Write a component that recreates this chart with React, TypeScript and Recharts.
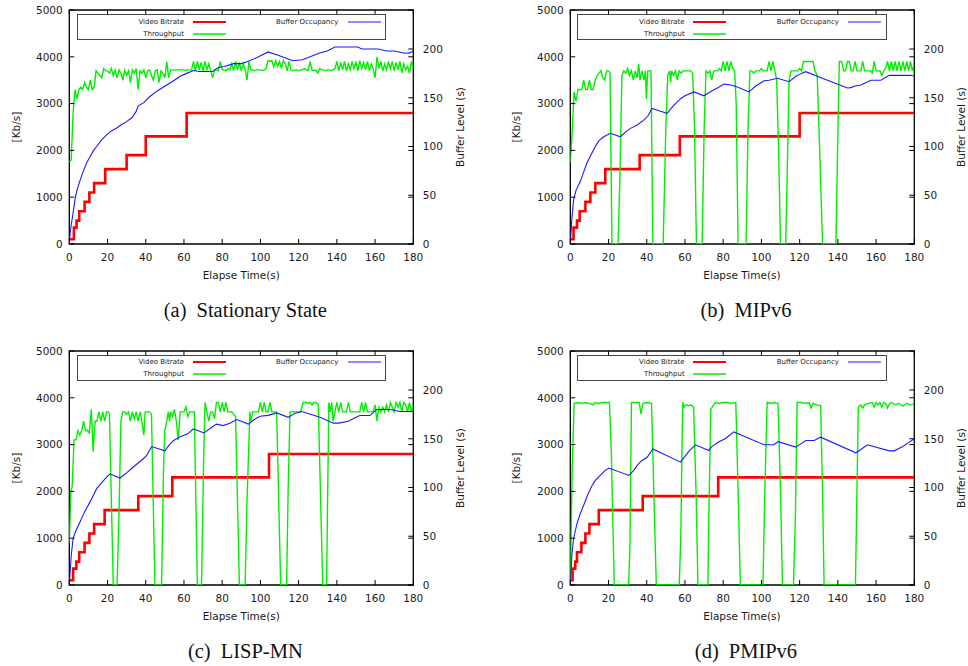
import React from 'react';
import { ComposedChart, Line, XAxis, YAxis, ReferenceArea, Legend } from 'recharts';

type Pt = [number, number];

const timeTicks = [0, 20, 40, 60, 80, 100, 120, 140, 160, 180];
const rateTicks = [0, 1000, 2000, 3000, 4000, 5000];
const bufferTicks = [0, 50, 100, 150, 200];
const seriesNames = ['Video Bitrate', 'Throughput', 'Buffer Occupancy'];
const seriesColors = ['#ff0000', '#00ee00', '#1a1aff'];
const panelTags = ['(a)', '(b)', '(c)', '(d)'];
const panelTitles = ['Stationary State', 'MIPv6', 'LISP-MN', 'PMIPv6'];

// (a) Stationary State
const bitrateA: Pt[] = [[0, 100], [2.4, 350], [3.8, 500], [5.2, 700], [8, 900], [10.5, 1100], [13, 1300], [18.8, 1600], [30, 1900], [40, 2300], [61.4, 2800], [180, 2800]];
const throughputA: Pt[] = [
  [0, 1750], [1, 1800], [2, 2800], [3, 3300], [4, 3100], [5, 3300], [6, 3350], [7, 3300], [8, 3450], [9, 3350],
  [10, 3300], [11, 3500], [12, 3300], [13, 3350], [14, 3700], [15, 3650], [16, 3600], [17, 3550], [18, 3750], [19, 3700],
  [20, 3700], [21, 3650], [22, 3750], [23, 3600], [24, 3720], [25, 3550], [26, 3720], [27, 3650], [28, 3500], [29, 3720],
  [30, 3600], [31, 3700], [32, 3450], [33, 3720], [34, 3650], [35, 3750], [36, 3300], [37, 3700], [38, 3650], [39, 3720],
  [40, 3550], [41, 3700], [42, 3720], [43, 3600], [44, 3500], [45, 3700], [46, 3720], [47, 3450], [48, 3700], [49, 3650],
  [50, 3550], [51, 3900], [52, 3550], [53, 3720], [54, 3720], [55, 3710], [56, 3720], [57, 3720], [58, 3720], [59, 3720],
  [60, 3720], [61, 3710], [62, 3720], [63, 3720], [64, 3720], [65, 3900], [66, 3700], [67, 3900], [68, 3720], [69, 3880],
  [70, 3700], [71, 3900], [72, 3720], [73, 3850], [74, 3700], [75, 3550], [76, 3720], [77, 3720], [78, 3700], [79, 3900],
  [80, 3720], [81, 3720], [82, 3700], [83, 3750], [84, 3720], [85, 3850], [86, 3700], [87, 3900], [88, 3720], [89, 3880],
  [90, 3700], [91, 3850], [92, 3720], [93, 3500], [94, 3900], [95, 3720], [96, 3720], [97, 3700], [98, 3720], [99, 3720],
  [100, 3720], [101, 3700], [102, 3720], [103, 3750], [104, 3920], [105, 3900], [106, 3920], [107, 3780], [108, 3920], [109, 3800],
  [110, 3900], [111, 3750], [112, 3920], [113, 3850], [114, 3700], [115, 3900], [116, 3720], [117, 3700], [118, 3720], [119, 3720],
  [120, 3700], [121, 3720], [122, 3720], [123, 3750], [124, 3720], [125, 3700], [126, 3900], [127, 3720], [128, 3700], [129, 3720],
  [130, 3650], [131, 3750], [132, 3720], [133, 3720], [134, 3700], [135, 3720], [136, 3720], [137, 3700], [138, 3720], [139, 3750],
  [140, 3900], [141, 3700], [142, 3880], [143, 3720], [144, 3900], [145, 3700], [146, 3850], [147, 3720], [148, 3900], [149, 3750],
  [150, 3880], [151, 3700], [152, 3920], [153, 3750], [154, 3880], [155, 3720], [156, 3900], [157, 3700], [158, 3850], [159, 3750],
  [160, 3550], [161, 4000], [162, 3750], [163, 3900], [164, 3700], [165, 3850], [166, 3720], [167, 3900], [168, 3750], [169, 3900],
  [170, 3700], [171, 3880], [172, 3720], [173, 3900], [174, 3650], [175, 3850], [176, 3720], [177, 3800], [178, 3650], [179, 3900],
  [180, 3750],
];
const bufferA: Pt[] = [
  [0, 0], [0.5, 12], [1.2, 22], [2, 32], [3, 46], [4, 55], [5.6, 65], [7, 73], [9, 83], [11, 90], [12.7, 96], [14.3, 100],
  [17, 107], [19.5, 112], [22, 116], [24.8, 119], [27, 122], [30, 125.5], [33, 130], [35, 136], [36, 141.5], [39, 145],
  [42, 151], [46, 157], [51, 163], [55, 168], [58, 172], [61.4, 175], [65, 178], [68, 177], [75, 177], [78, 181], [81, 182],
  [86, 185], [90, 185], [93, 187], [98, 191], [104, 197], [110, 193], [117, 188], [122, 189], [126, 192], [131, 196],
  [135, 198], [139, 202], [151, 202], [153, 200], [161.7, 200], [166, 198], [170, 198], [175.6, 195.6], [178, 196], [180, 198],
];

// (b) MIPv6
const bitrateB: Pt[] = [[0, 100], [1.7, 350], [3.5, 500], [4.9, 700], [7.9, 900], [10.5, 1100], [13.1, 1300], [18.3, 1600], [36.3, 1900], [57.3, 2300], [120, 2800], [180, 2800]];
const throughputB: Pt[] = [
  [0, 1750], [1, 2400], [2, 3250], [3, 3050], [4, 3300], [5, 3300], [6, 3300], [7, 3500], [8, 3300], [9, 3300],
  [10, 3500], [11, 3300], [12, 3300], [13, 3500], [14, 3600], [15, 3650], [16, 3700], [17, 3550], [18, 3500], [19, 3700],
  [20, 3700], [20.8, 3650], [21.8, 0], [25, 0], [26, 1500], [27, 3600], [28, 3700], [29, 3650], [30, 3750], [31, 3600],
  [32, 3700], [33, 3500], [34, 3700], [35, 3550], [35.8, 3850], [36.5, 3500], [37.5, 3700], [38.5, 3500], [39.3, 3700],
  [39.8, 3100], [40.5, 3700], [41.5, 3700], [42.2, 3700], [43.2, 0], [48.6, 0], [50, 2500], [51, 3600], [52, 3700],
  [52.5, 3450], [53, 3700], [54, 3600], [55, 3700], [56, 3500], [57, 3700], [58, 3650], [59, 3700], [60, 3700], [61, 3700],
  [62, 3700], [63, 3700], [64, 3650], [65, 2500], [66, 0], [69, 0], [70, 2400], [71, 3700], [72, 3650], [73, 3700],
  [74, 3500], [75, 3700], [76, 3700], [77, 3700], [78, 3750], [79, 3700], [80, 3900], [81, 3700], [82, 3900], [83, 3700],
  [84, 3900], [85, 3750], [86, 3700], [86.8, 3000], [87.8, 0], [92, 0], [93, 2500], [94, 3700], [95, 3700], [96, 3650],
  [97, 3700], [98, 3700], [99, 3700], [100, 3750], [101, 3700], [102, 3700], [103, 3700], [104, 3900], [105, 3700],
  [106, 3900], [107, 3700], [108, 3500], [109, 2000], [110, 0], [112.7, 0], [113.5, 1500], [114.5, 3500], [115.5, 3700],
  [117, 3700], [119, 3700], [120, 3750], [121, 3700], [122, 3900], [123, 3900], [125, 3900], [127, 3900], [128, 3700],
  [129.2, 3600], [130.5, 2000], [132, 0], [139, 0], [140.3, 3000], [140.8, 3900], [142, 3900], [143, 3700], [144, 3700],
  [145, 3900], [146, 3900], [147, 3700], [148, 3700], [149, 3900], [150, 3700], [151, 3700], [152, 3700], [153, 3900],
  [154, 3700], [155, 3700], [156, 3700], [157, 3700], [158, 3650], [159, 3900], [160, 3700], [161, 3700], [162, 3700],
  [163, 3600], [164, 3700], [165, 3750], [166, 3900], [167, 3700], [168, 3900], [169, 3700], [170, 3900], [171, 3700],
  [172, 3900], [173, 3700], [174, 3900], [175, 3700], [176, 3900], [177, 3700], [178, 3900], [179, 3700], [180, 3850],
];
const bufferB: Pt[] = [
  [0, 0], [0.8, 25], [1.7, 45], [3, 55], [5.2, 64], [7, 74], [8.7, 83], [11, 92], [13.1, 100], [15, 106], [17.5, 110],
  [21, 113.5], [26.2, 110], [29, 115], [31.5, 118.6], [35, 122], [38.4, 127], [40.5, 131], [42.8, 139], [46, 137],
  [50.7, 134], [54, 142], [57.7, 149], [60, 152], [64.7, 156], [69.9, 152], [74, 157], [77, 160], [80.4, 164], [84, 163],
  [87.4, 161], [93.5, 156], [97, 162], [101.4, 167.5], [104, 168], [108.4, 170], [114.5, 166.5], [118, 172], [121, 175],
  [123.2, 176.8], [134.6, 168], [145, 160], [146.8, 160.4], [149, 162], [152, 163], [157.3, 168], [162.5, 168],
  [166.9, 173], [178.3, 173], [180, 172],
];

// (c) LISP-MN
const bitrateC: Pt[] = [[0, 100], [2, 350], [3.7, 500], [5.2, 700], [8, 900], [10.5, 1100], [13, 1300], [18.5, 1600], [36.1, 1900], [53.9, 2300], [104.5, 2800], [180, 2800]];
const throughputC: Pt[] = [
  [0, 900], [0.8, 2000], [1.5, 2100], [2.5, 3100], [3.5, 3100], [4.5, 3300], [5.5, 3200], [6.5, 3300], [7.5, 3500],
  [8.5, 3300], [9.5, 3300], [10.5, 3250], [11.5, 3750], [12.5, 2850], [13.5, 3500], [14.5, 3500], [15.5, 3700],
  [16.5, 3500], [17.5, 3700], [18.5, 3500], [19.5, 3700], [20.5, 3700], [21, 3650], [23, 0], [25, 0], [26, 1500],
  [27, 3500], [28, 3700], [29, 3700], [30, 3650], [31, 3700], [32, 3500], [33, 3700], [34, 3550], [35, 3700], [36, 3500],
  [37, 3700], [38, 3500], [39, 3200], [39.7, 3700], [41, 3700], [42, 3700], [43, 3650], [44.8, 0], [48.3, 0], [49.3, 2500],
  [50, 3300], [51, 3500], [51.8, 3700], [52.5, 3500], [53, 3700], [54, 3600], [55, 3750], [56, 3500], [57, 3100],
  [58, 3700], [59, 3700], [60, 3700], [61, 3800], [62, 3600], [63, 3700], [64, 3700], [65.4, 3700], [67, 0], [69.2, 0],
  [70.2, 2500], [71, 3900], [72, 3700], [73, 3500], [74, 3700], [75, 3700], [76, 3550], [77, 3900], [78, 3900], [79, 3700],
  [80, 3900], [81, 3700], [82, 3900], [83, 3700], [84, 3700], [85, 3700], [86, 3650], [87, 3600], [89, 0], [92, 0],
  [93, 1800], [94.5, 3700], [95, 3500], [96, 3700], [97, 3700], [98, 3700], [99, 3700], [100, 3900], [101, 3700],
  [102, 3900], [103, 3700], [104, 3700], [105, 3900], [106, 3700], [107, 3700], [108.5, 3700], [110.6, 0], [113.7, 0],
  [114.5, 2000], [115.5, 3700], [117, 3700], [119, 3700], [121, 3700], [122.4, 3900], [124, 3900], [125, 3880],
  [126, 3900], [127, 3850], [128, 3900], [129, 3900], [130.3, 3850], [132.6, 0], [134.6, 0], [135.8, 3900], [136.5, 3700],
  [137.3, 3900], [138, 3500], [139, 3700], [140, 3900], [141, 3700], [142, 3900], [143, 3700], [144, 3700], [145, 3700],
  [146, 3900], [147, 3700], [148, 3700], [149, 3700], [150, 3700], [151, 3700], [152, 3700], [153, 3900], [154, 3700],
  [155, 3900], [156, 3700], [157, 3700], [158, 3700], [159, 3700], [160, 3850], [161, 3500], [162, 3800], [163, 3700],
  [164, 3800], [165, 3700], [166, 3850], [167, 3700], [168, 3900], [169, 3800], [170, 3700], [171, 3900], [172, 3800],
  [173, 3900], [174, 3700], [175, 3900], [176, 3850], [177, 3700], [178, 3900], [179, 3700], [180, 3850],
];
const bufferC: Pt[] = [
  [0, 0], [1, 30], [2, 47.7], [3.5, 56], [5.6, 64.7], [8, 75], [10.8, 85], [14.3, 98.8], [17, 105], [19.5, 110.7],
  [21.3, 114], [26.5, 109.7], [30, 115], [33.5, 121], [38.7, 129.5], [40.5, 133], [43.1, 142], [50, 137.6], [52, 143],
  [54.4, 148], [58, 152], [62, 155], [64.9, 160], [70.5, 156], [74, 161], [77, 165], [80.6, 163.5], [84, 166],
  [87.6, 169.7], [93.7, 165], [97, 170], [99.8, 173], [104, 174], [108.5, 176.5], [114.6, 172], [118, 176], [121.6, 177.9],
  [131.2, 172], [138.2, 166], [141, 166], [146, 168], [149, 171], [152, 173.8], [157.3, 173.8], [160.8, 180],
  [167.8, 180], [173, 177.9], [180, 177.9],
];

// (d) PMIPv6
const bitrateD: Pt[] = [[0, 100], [1.2, 350], [2.6, 500], [3.5, 700], [5.8, 900], [7.9, 1100], [10, 1300], [14.9, 1600], [37.9, 1900], [77.4, 2300], [180, 2300]];
const throughputD: Pt[] = [
  [0, 0], [1, 2500], [2, 3880], [4, 3900], [6, 3880], [8, 3900], [10, 3880], [12, 3850], [13, 3900], [15, 3880],
  [17, 3900], [19, 3900], [20.5, 3900], [21.5, 2800], [23, 0], [30.5, 0], [31.2, 800], [32, 3900], [34, 3900], [36, 3900],
  [37, 3650], [38, 3880], [40, 3900], [42.5, 3880], [43.7, 2000], [45, 0], [57, 0], [57.8, 1000], [58.8, 3900],
  [59.5, 3800], [60.5, 3850], [62, 3830], [63, 3850], [64.5, 3800], [65.8, 2000], [66.8, 0], [72, 0], [72.5, 1500],
  [73.5, 3750], [75, 3850], [76, 3900], [78, 3880], [80, 3900], [82, 3900], [84, 3880], [86.6, 3900], [87.8, 2000],
  [89, 0], [100.8, 0], [101.8, 2000], [103, 3900], [105, 3880], [107, 3900], [108.7, 3880], [110, 2000], [111, 0],
  [116.8, 0], [117.8, 1500], [118.7, 3900], [121, 3900], [123, 3880], [125, 3900], [126, 3780], [127, 3880], [129, 3850],
  [131, 3830], [132, 2000], [132.8, 0], [149.2, 0], [149.8, 1500], [150.7, 3800], [152, 3850], [153, 3780], [154, 3850],
  [156, 3880], [158, 3900], [159, 3800], [160, 3900], [161, 3850], [162, 3900], [163, 3800], [164, 3900], [165, 3880],
  [166, 3780], [167, 3880], [168, 3900], [170, 3850], [172, 3880], [174, 3820], [176, 3880], [178, 3850], [180, 3870],
];
const bufferD: Pt[] = [
  [0, 0], [0.8, 30], [1.7, 47.7], [3.5, 63], [5, 72], [7, 81.8], [9, 92], [11.4, 102], [13, 107], [15.7, 112.4], [18, 117],
  [20.1, 120], [30.6, 112.4], [33, 117], [35, 122.6], [37, 127], [40.2, 131], [43.2, 139.6], [57.7, 126], [60, 132],
  [62, 137], [65.5, 143.8], [72.5, 138], [74, 142], [77.8, 147], [81, 150], [85.6, 157], [101.4, 143.8], [106.6, 143.8],
  [108.7, 147], [118, 141.4], [120, 144], [123.2, 148.2], [127.6, 148.2], [131, 151.6], [149.4, 135.6], [152, 139],
  [155.5, 143.8], [166.9, 137.6], [169.5, 137.6], [174, 142], [177, 146], [180, 150],
];

const panelData = [
  { bitrate: bitrateA, throughput: throughputA, buffer: bufferA },
  { bitrate: bitrateB, throughput: throughputB, buffer: bufferB },
  { bitrate: bitrateC, throughput: throughputC, buffer: bufferC },
  { bitrate: bitrateD, throughput: throughputD, buffer: bufferD },
];

const PLOT_W = 344;
const PLOT_H = 234;
const LEFT_W = 69.3;
const RIGHT_W = 61;
const TOP = 10;
const CHART_W = LEFT_W + PLOT_W + RIGHT_W + 6;
const CHART_H = TOP + PLOT_H + 46;
const FONT = '"DejaVu Sans", sans-serif';
const TEXT = '#1a1a1a';
const panelPos = [
  { left: 0, top: 0 },
  { left: 500.7, top: 0 },
  { left: 0, top: 340.7 },
  { left: 500.7, top: 340.7 },
];

const toRows = (pts: Pt[]) => pts.map(([t, v]) => ({ t, v }));

// gnuplot-style inward ticks, with mirrored ticks on the top edge
const TimeTick = (p: any) => {
  const { x, y, payload } = p;
  return (
    <g>
      <line x1={x} x2={x} y1={y} y2={y - 5} stroke="#000" />
      <line x1={x} x2={x} y1={y - PLOT_H} y2={y - PLOT_H + 5} stroke="#000" />
      <text x={x} y={y + 17} textAnchor="middle" fontSize={10.5} fontFamily={FONT} fill={TEXT}>
        {payload.value}
      </text>
    </g>
  );
};

const RateTick = (p: any) => {
  const { x, y, payload } = p;
  return (
    <g>
      <line x1={x} x2={x + 5} y1={y} y2={y} stroke="#000" />
      <line x1={x + PLOT_W} x2={x + PLOT_W - 5} y1={y} y2={y} stroke="#000" />
      <text x={x - 6.6} y={y} dy="0.36em" textAnchor="end" fontSize={10.5} fontFamily={FONT} fill={TEXT}>
        {payload.value}
      </text>
    </g>
  );
};

const BufferTick = (p: any) => {
  const { x, y, payload } = p;
  return (
    <g>
      <line x1={x} x2={x - 5} y1={y} y2={y} stroke="#000" />
      <text x={x + 9.5} y={y} dy="0.36em" textAnchor="start" fontSize={10.5} fontFamily={FONT} fill={TEXT}>
        {payload.value}
      </text>
    </g>
  );
};

const LEGEND_W = 309.3;
const LEGEND_H = 25.7;
// text right edge, sample start and row centre for each series inside the box
const legendSlots = [
  { textRight: 108.3, lineX: 115, cy: 6.5 },
  { textRight: 108.3, lineX: 115, cy: 18.5 },
  { textRight: 262.6, lineX: 270, cy: 6.5 },
];
const legendWidths = [1.8, 1.3, 1.2];

const LegendBox = () => (
  <div
    style={{
      position: 'relative',
      width: LEGEND_W,
      height: LEGEND_H,
      border: '1.3px solid #444',
      boxSizing: 'border-box',
      fontFamily: FONT,
      fontSize: 7,
      color: TEXT,
      background: '#fff',
    }}
  >
    {seriesNames.map((name, i) => {
      const s = legendSlots[i];
      return (
        <React.Fragment key={name}>
          <div
            style={{
              position: 'absolute',
              right: LEGEND_W - s.textRight,
              top: s.cy - 5,
              lineHeight: '10px',
              whiteSpace: 'nowrap',
            }}
          >
            {name}
          </div>
          <svg
            width={34}
            height={6}
            style={{ position: 'absolute', left: s.lineX, top: s.cy - 3, overflow: 'visible' }}
          >
            <line x1={0} x2={33} y1={3} y2={3} stroke={seriesColors[i]} strokeWidth={legendWidths[i]} />
          </svg>
        </React.Fragment>
      );
    })}
  </div>
);

const Panel = ({ idx }: { idx: number }) => {
  const { bitrate, throughput, buffer } = panelData[idx];
  const pos = panelPos[idx];
  const midY = TOP + PLOT_H / 2;
  return (
    <div style={{ position: 'absolute', left: pos.left, top: pos.top, width: CHART_W, height: 330 }}>
      <ComposedChart width={CHART_W} height={CHART_H} margin={{ top: TOP, right: 6, bottom: 0, left: 0 }}>
        <XAxis
          dataKey="t"
          type="number"
          domain={[0, 180]}
          ticks={timeTicks}
          interval={0}
          height={46}
          tickSize={0}
          tickMargin={0}
          axisLine={false}
          tickLine={false}
          tick={(p: any) => <TimeTick {...p} />}
          allowDataOverflow
        />
        <YAxis
          yAxisId="left"
          orientation="left"
          type="number"
          domain={[0, 5000]}
          ticks={rateTicks}
          interval={0}
          width={LEFT_W}
          tickSize={0}
          tickMargin={0}
          axisLine={false}
          tickLine={false}
          tick={(p: any) => <RateTick {...p} />}
          allowDataOverflow
        />
        <YAxis
          yAxisId="right"
          orientation="right"
          type="number"
          domain={[0, 240]}
          ticks={bufferTicks}
          interval={0}
          width={RIGHT_W}
          tickSize={0}
          tickMargin={0}
          axisLine={false}
          tickLine={false}
          tick={(p: any) => <BufferTick {...p} />}
          allowDataOverflow
        />
        <ReferenceArea yAxisId="left" x1={0} x2={180} y1={0} y2={5000} fill="none" stroke="#000" strokeWidth={1.3} />
        <Legend
          layout="horizontal"
          align="center"
          verticalAlign="middle"
          content={() => <LegendBox />}
          wrapperStyle={{ left: LEFT_W + 7.4, top: TOP + 4.3, width: LEGEND_W, height: LEGEND_H }}
        />
        <Line
          yAxisId="left"
          data={toRows(bitrate)}
          dataKey="v"
          name={seriesNames[0]}
          type="stepAfter"
          stroke={seriesColors[0]}
          strokeWidth={2.6}
          dot={false}
          activeDot={false}
          isAnimationActive={false}
        />
        <Line
          yAxisId="left"
          data={toRows(throughput)}
          dataKey="v"
          name={seriesNames[1]}
          type="linear"
          stroke={seriesColors[1]}
          strokeWidth={1.4}
          dot={false}
          activeDot={false}
          isAnimationActive={false}
        />
        <Line
          yAxisId="right"
          data={toRows(buffer)}
          dataKey="v"
          name={seriesNames[2]}
          type="linear"
          stroke={seriesColors[2]}
          strokeWidth={1.1}
          dot={false}
          activeDot={false}
          isAnimationActive={false}
        />
      </ComposedChart>
      <div
        style={{
          position: 'absolute',
          left: LEFT_W - 53.7,
          top: midY,
          transform: 'translate(-50%, -50%) rotate(-90deg)',
          fontFamily: FONT,
          fontSize: 10.5,
          color: TEXT,
          whiteSpace: 'nowrap',
        }}
      >
        [Kb/s]
      </div>
      <div
        style={{
          position: 'absolute',
          left: LEFT_W + PLOT_W + 46.7,
          top: midY,
          transform: 'translate(-50%, -50%) rotate(-90deg)',
          fontFamily: FONT,
          fontSize: 10.5,
          color: TEXT,
          whiteSpace: 'nowrap',
        }}
      >
        Buffer Level (s)
      </div>
      <div
        style={{
          position: 'absolute',
          left: LEFT_W + PLOT_W / 2,
          top: 275,
          transform: 'translate(-50%, -50%)',
          fontFamily: FONT,
          fontSize: 10.5,
          color: TEXT,
          whiteSpace: 'nowrap',
        }}
      >
        Elapse Time(s)
      </div>
      <div
        style={{
          position: 'absolute',
          left: LEFT_W + PLOT_W / 2 + 4,
          top: 310,
          transform: 'translate(-50%, -50%)',
          fontFamily: '"Liberation Serif", "Times New Roman", serif',
          fontSize: 20.5,
          color: '#111',
          whiteSpace: 'nowrap',
        }}
      >
        <span>{panelTags[idx]}</span>
        <span style={{ marginLeft: 10 }}>{panelTitles[idx]}</span>
      </div>
    </div>
  );
};

export default function App() {
  return (
    <div style={{ position: 'absolute', left: 0, top: 0, width: 968, height: 666, background: '#fff' }}>
      {panelData.map((_, i) => (
        <Panel key={i} idx={i} />
      ))}
    </div>
  );
}
